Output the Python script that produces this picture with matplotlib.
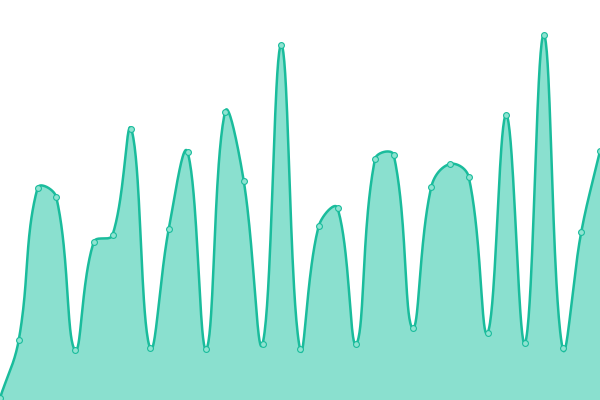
import numpy as np
import matplotlib
matplotlib.use('Agg')
import matplotlib.pyplot as plt

# ── data ───────────────────────────────────────────────────────
values = [2, 60, 212, 203, 50, 158, 165, 271, 52, 171, 248,
          51, 288, 219, 56, 355, 51, 174, 192, 56, 241, 245,
          72, 213, 236, 223, 67, 285, 57, 365, 52, 168, 249]
y_max = 400

LINE = '#1abc9c'
FILL = '#8ae0cf'

W, H = 600, 400
n = len(values)
xs = np.arange(n) * (W / (n - 1))     # pixel x of each point
ys = np.array(values, dtype=float) * (H / y_max)


# ── distance-weighted spline (tension 0.4) ─────────────────────
def control_points(px, py, t=0.4):
    cps = []
    for i in range(len(px)):
        prev = (px[max(i - 1, 0)], py[max(i - 1, 0)])
        cur = (px[i], py[i])
        nxt = (px[min(i + 1, len(px) - 1)], py[min(i + 1, len(px) - 1)])
        d01 = np.hypot(cur[0] - prev[0], cur[1] - prev[1])
        d12 = np.hypot(nxt[0] - cur[0], nxt[1] - cur[1])
        tot = d01 + d12
        s01 = d01 / tot if tot else 0
        s12 = d12 / tot if tot else 0
        fa, fb = t * s01, t * s12
        vx, vy = nxt[0] - prev[0], nxt[1] - prev[1]
        cps.append(((cur[0] - fa * vx, cur[1] - fa * vy),
                    (cur[0] + fb * vx, cur[1] + fb * vy)))
    return cps


cps = control_points(xs, ys)
tt = np.linspace(0, 1, 40)[:, None]
curve = []
for i in range(n - 1):
    p0 = np.array([xs[i], ys[i]])
    p1 = np.array(cps[i][1])
    p2 = np.array(cps[i + 1][0])
    p3 = np.array([xs[i + 1], ys[i + 1]])
    seg = ((1 - tt) ** 3 * p0 + 3 * (1 - tt) ** 2 * tt * p1
           + 3 * (1 - tt) * tt ** 2 * p2 + tt ** 3 * p3)
    curve.append(seg if i == 0 else seg[1:])
curve = np.vstack(curve)

# ── plot ───────────────────────────────────────────────────────
fig = plt.figure(figsize=(6, 4), dpi=100)
ax = fig.add_axes([0, 0, 1, 1])
ax.set_xlim(0, W)
ax.set_ylim(0, H)
ax.axis('off')

poly_x = np.concatenate([[curve[0, 0]], curve[:, 0], [curve[-1, 0]]])
poly_y = np.concatenate([[0], curve[:, 1], [0]])
ax.fill(poly_x, poly_y, color=FILL, lw=0, zorder=1)
ax.plot(curve[:, 0], curve[:, 1], color=LINE, lw=1.8,
        solid_capstyle='round', zorder=2)
ax.plot(xs, ys, 'o', ms=4.2, mfc='#8fe3d1', mec=LINE, mew=0.8,
        zorder=3, clip_on=False)

fig.savefig('out.png', dpi=100)
